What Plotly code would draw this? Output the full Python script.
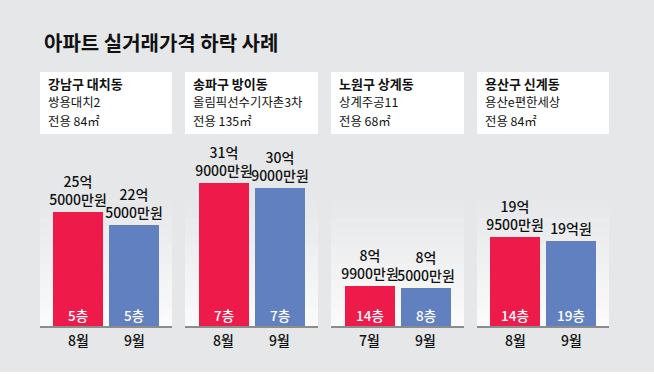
import plotly.graph_objects as go

# ---------------- data ----------------
title_text = "아파트 실거래가격 하락 사례"
regions = ["강남구 대치동", "송파구 방이동", "노원구 상계동", "용산구 신계동"]
complexes = ["쌍용대치2", "올림픽선수기자촌3차", "상계주공11", "용산e편한세상"]
areas = ["전용 84㎡", "전용 135㎡", "전용 68㎡", "전용 84㎡"]
months_before = ["8월", "8월", "7월", "8월"]
months_after = ["9월", "9월", "9월", "9월"]
price_before = [25.5, 31.9, 8.99, 19.95]   # 억원
price_after = [22.5, 30.9, 8.5, 19.0]      # 억원
label_before = ["25억<br>5000만원", "31억<br>9000만원", "8억<br>9900만원", "19억<br>9500만원"]
label_after = ["22억<br>5000만원", "30억<br>9000만원", "8억<br>5000만원", "19억원"]
floor_before = ["5층", "7층", "14층", "14층"]
floor_after = ["5층", "7층", "8층", "19층"]

# ---------------- style ----------------
W, H = 654, 374
BG = "#e6e7e9"
RED = "#ed1a4a"
BLUE = "#6080bf"
FONT = "Noto Sans CJK KR"
panel_px = [(40, 172), (185, 318), (331, 464), (477, 609)]
baseline_px = 326
px_per_unit = 4.47

def px_x(p):
    return p / W

def px_y(p):
    return 1 - p / H

fig = go.Figure()
shapes = []
annotations = []

y_top_range = baseline_px / px_per_unit
layout_axes = {}

for i in range(4):
    xa = "x" if i == 0 else f"x{i+1}"
    xkey = "xaxis" if i == 0 else f"xaxis{i+1}"
    x0, x1 = panel_px[i]
    pw = x1 - x0
    unit = 56.0
    off = (pw - unit) / 2 / unit
    rng = [-off, 1 + off]

    fig.add_trace(go.Bar(
        x=[0, 1], y=[price_before[i], price_after[i]],
        xaxis=xa, yaxis="y",
        marker=dict(color=[RED, BLUE], line=dict(width=0)),
        width=50 / unit,
        text=[label_before[i], label_after[i]],
        textposition="outside", constraintext="none", cliponaxis=False,
        textfont=dict(family=FONT, size=14, color="#111", weight=500),
        hoverinfo="skip", showlegend=False,
    ))
    layout_axes[xkey] = dict(
        domain=[px_x(x0), px_x(x1)], range=rng, anchor="y",
        showticklabels=False, ticks="",
        showline=True, linecolor="#8c8c8c", linewidth=2,
        showgrid=False, zeroline=False, fixedrange=True,
    )
    # floor labels inside bars and month labels below baseline
    for xv, ft, mo in zip([0, 1], [floor_before[i], floor_after[i]],
                          [months_before[i], months_after[i]]):
        annotations.append(dict(
            x=xv, y=0, xref=xa, yref="y", text=ft, showarrow=False,
            yanchor="middle", yshift=11,
            font=dict(family=FONT, size=13.5, color="white", weight=500),
        ))
        annotations.append(dict(
            x=xv, y=0, xref=xa, yref="y", text=mo, showarrow=False,
            yanchor="middle", yshift=-14,
            font=dict(family=FONT, size=14, color="#111", weight=500),
        ))
    # gradient panel background
    g_top, g_bot = 200, baseline_px
    n = 14
    c_top = (0xe6, 0xe7, 0xe9)
    c_bot = (0xfb, 0xfb, 0xfb)
    for k in range(n):
        t = (k + 0.5) / n
        c = tuple(int(round(a + (b - a) * t)) for a, b in zip(c_top, c_bot))
        ya = g_top + (g_bot - g_top) * k / n
        yb = g_top + (g_bot - g_top) * (k + 1) / n
        shapes.append(dict(type="rect", xref="paper", yref="paper",
                           x0=px_x(x0), x1=px_x(x1), y0=px_y(yb), y1=px_y(ya),
                           fillcolor="rgb(%d,%d,%d)" % c, line=dict(width=0),
                           layer="below"))
    # header box
    shapes.append(dict(type="rect", xref="paper", yref="paper",
                       x0=px_x(x0), x1=px_x(x1), y0=px_y(134), y1=px_y(72),
                       fillcolor="white", line=dict(width=0), layer="below"))
    for txt, yc, sz, bold in [(regions[i], 83.5, 13, True),
                              (complexes[i], 102.2, 12.4, False),
                              (areas[i], 120.6, 12.4, False)]:
        annotations.append(dict(
            x=px_x(x0 + 6), y=px_y(yc), xref="paper", yref="paper",
            text=f"<b>{txt}</b>" if bold else txt, showarrow=False,
            xanchor="left", yanchor="middle",
            font=dict(family=FONT, size=sz, color="#111"),
        ))

annotations.append(dict(
    x=px_x(42), y=px_y(42), xref="paper", yref="paper",
    text=f"<b>{title_text}</b>", showarrow=False, xanchor="left", yanchor="middle",
    font=dict(family=FONT, size=20, color="#111"),
))
shapes.append(dict(type="rect", xref="paper", yref="paper", x0=0, x1=1,
                   y0=0, y1=px_y(372), fillcolor="white", line=dict(width=0),
                   layer="below"))

fig.update_layout(
    width=W, height=H, margin=dict(l=0, r=0, t=0, b=0),
    paper_bgcolor=BG, plot_bgcolor="rgba(0,0,0,0)",
    yaxis=dict(domain=[px_y(baseline_px), 1], range=[0, y_top_range],
               visible=False, fixedrange=True),
    shapes=shapes, annotations=annotations, bargap=0,
    font=dict(family=FONT),
    **layout_axes,
)

fig.write_html("out.html", config={"displayModeBar": False},
               post_script="document.body.style.margin='0';document.body.style.overflow='hidden';")
